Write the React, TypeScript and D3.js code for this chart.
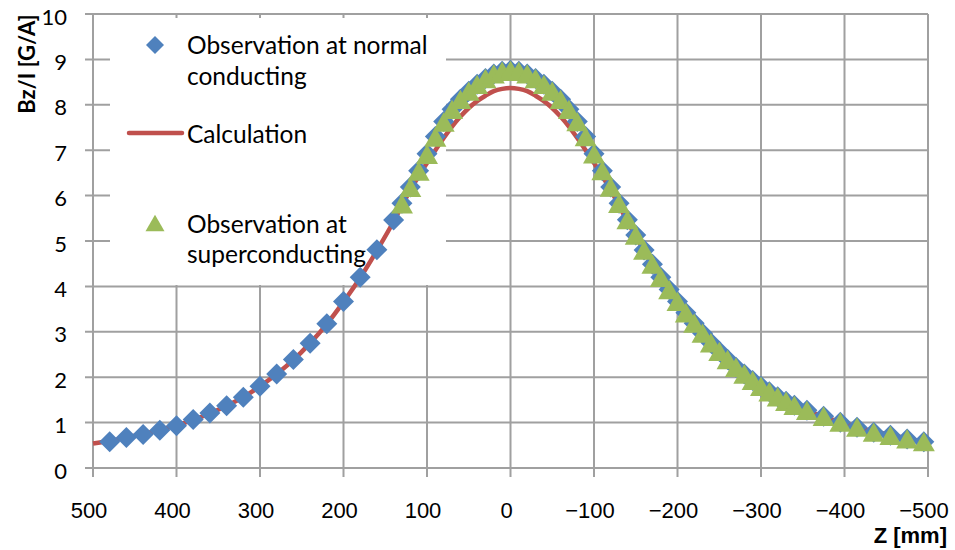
import { useEffect, useRef } from "react";
import * as d3 from "d3";

// Observation at normal conducting (blue diamonds)
const zNormal = [
  480, 460, 440, 420, 400, 380, 360, 340, 320, 300, 280, 260, 240, 220, 200, 180, 160, 140,
  130, 120, 110, 100, 90, 80, 70, 60, 50, 40, 30, 20, 10, 0,
  -10, -20, -30, -40, -50, -60, -70, -80, -90, -100, -110, -120, -130, -140, -150, -160,
  -170, -180, -190, -200, -210, -220, -230, -240, -250, -260, -270, -280, -290, -300,
  -310, -320, -330, -340, -355, -375, -395, -415, -435, -455, -475, -495,
];
const bNormal = [
  0.58, 0.67, 0.74, 0.83, 0.93, 1.07, 1.21, 1.37, 1.56, 1.8, 2.07, 2.39, 2.75, 3.18, 3.67, 4.2, 4.81, 5.46,
  5.83, 6.19, 6.55, 6.92, 7.3, 7.63, 7.9, 8.12, 8.3, 8.45, 8.58, 8.68, 8.74, 8.76,
  8.74, 8.68, 8.58, 8.45, 8.3, 8.12, 7.9, 7.63, 7.3, 6.92, 6.55, 6.19, 5.83, 5.47, 5.13, 4.8,
  4.49, 4.2, 3.93, 3.67, 3.42, 3.19, 2.97, 2.76, 2.57, 2.39, 2.22, 2.07, 1.93, 1.8,
  1.68, 1.57, 1.47, 1.38, 1.27, 1.14, 1.01, 0.9, 0.79, 0.72, 0.64, 0.58,
];

// Observation at superconducting (green triangles)
const zSuper = [
  130, 120, 110, 100, 90, 80, 70, 60, 50, 40, 30, 20, 10, 0,
  -10, -20, -30, -40, -50, -60, -70, -80, -90, -100, -110, -120, -130, -140, -150, -160,
  -170, -180, -190, -200, -210, -220, -230, -240, -250, -260, -270, -280, -290, -300,
  -310, -320, -330, -340, -355, -375, -395, -415, -435, -455, -475, -495,
];
const bSuper = [
  5.82, 6.18, 6.54, 6.91, 7.29, 7.62, 7.9, 8.12, 8.3, 8.45, 8.58, 8.68, 8.74, 8.76,
  8.74, 8.68, 8.58, 8.45, 8.3, 8.12, 7.9, 7.63, 7.3, 6.92, 6.55, 6.19, 5.83, 5.47, 5.13, 4.8,
  4.49, 4.2, 3.93, 3.67, 3.42, 3.19, 2.97, 2.76, 2.57, 2.39, 2.22, 2.07, 1.93, 1.8,
  1.68, 1.57, 1.47, 1.38, 1.27, 1.14, 1.01, 0.9, 0.79, 0.72, 0.64, 0.58,
];

// Calculation (red line)
const zCalc = [
  500, 480, 460, 440, 420, 400, 380, 360, 340, 320, 300, 280, 260, 240, 220, 200, 180, 160, 140,
  130, 120, 110, 100, 90, 80, 70, 60, 50, 40, 30, 20, 10, 0,
  -10, -20, -30, -40, -50, -60, -70, -80, -90, -100, -110, -120, -130,
  -140, -160, -180, -200, -220, -240, -260, -280, -300, -320, -340, -360, -380, -400,
  -420, -440, -460, -480, -500,
];
const bCalc = [
  0.54, 0.6, 0.67, 0.75, 0.84, 0.94, 1.06, 1.2, 1.37, 1.56, 1.8, 2.07, 2.38, 2.75, 3.17, 3.66, 4.19, 4.79, 5.43,
  5.78, 6.12, 6.43, 6.72, 7.0, 7.27, 7.52, 7.74, 7.93, 8.08, 8.2, 8.3, 8.35, 8.37,
  8.35, 8.3, 8.2, 8.08, 7.93, 7.74, 7.52, 7.27, 7.0, 6.72, 6.43, 6.12, 5.78,
  5.43, 4.79, 4.19, 3.66, 3.17, 2.75, 2.38, 2.07, 1.8, 1.57, 1.38, 1.23, 1.1, 0.99,
  0.88, 0.79, 0.71, 0.63, 0.56,
];

const xTicks = [500, 400, 300, 200, 100, 0, -100, -200, -300, -400, -500];
const yTicks = [0, 1, 2, 3, 4, 5, 6, 7, 8, 9, 10];

const BLUE = "#4f81bd";
const RED = "#c0504d";
const GREEN = "#9bbb59";
const GRID = "#a0a0a0";

const diamond = {
  draw(context, size) {
    const r = Math.sqrt(size) / 2;
    context.moveTo(0, -r);
    context.lineTo(r, 0);
    context.lineTo(0, r);
    context.lineTo(-r, 0);
    context.closePath();
  },
};

const boxTriangle = {
  draw(context, size) {
    const w = Math.sqrt(size);
    const h = w * 0.88;
    context.moveTo(0, -h / 2);
    context.lineTo(w / 2, h / 2);
    context.lineTo(-w / 2, h / 2);
    context.closePath();
  },
};

export default function App() {
  const svgRef = useRef<SVGSVGElement | null>(null);

  useEffect(() => {
    if (!svgRef.current) return;
    const width = 955;
    const height = 550;
    const margin = { top: 14, right: 27, bottom: 82, left: 93 };

    const x = d3
      .scaleLinear()
      .domain([500, -500])
      .range([margin.left, width - margin.right]);
    const y = d3
      .scaleLinear()
      .domain([0, 10])
      .range([height - margin.bottom, margin.top]);

    const svg = d3.select(svgRef.current);
    svg.selectAll("*").remove();
    svg.attr("width", width).attr("height", height).style("background", "#fff");

    const grid = svg.append("g").attr("stroke", GRID).attr("stroke-width", 2);
    grid
      .selectAll("line.h")
      .data(yTicks)
      .join("line")
      .attr("class", "h")
      .attr("x1", margin.left - 8)
      .attr("x2", x(-500))
      .attr("y1", (t) => y(t))
      .attr("y2", (t) => y(t));
    grid
      .selectAll("line.v")
      .data(xTicks)
      .join("line")
      .attr("class", "v")
      .attr("x1", (t) => x(t))
      .attr("x2", (t) => x(t))
      .attr("y1", y(10))
      .attr("y2", y(0) + 9);

    // legend box covers the gridlines behind it
    svg
      .append("rect")
      .attr("x", 110)
      .attr("y", 18)
      .attr("width", 336)
      .attr("height", 267)
      .attr("fill", "#fff");

    svg
      .append("g")
      .selectAll("text")
      .data(yTicks)
      .join("text")
      .attr("x", 67)
      .attr("y", (t) => y(t) + 10.5)
      .attr("text-anchor", "end")
      .attr("font-family", "Lato, sans-serif")
      .attr("font-size", 22)
      .attr("fill", "#000")
      .text((t) => String(t));

    const fmt = d3.format("d");
    svg
      .append("g")
      .selectAll("text")
      .data(xTicks)
      .join("text")
      .attr("x", (t) => x(t) - 4)
      .attr("y", 518)
      .attr("text-anchor", "middle")
      .attr("font-family", "'Liberation Sans', Arial, sans-serif")
      .attr("font-size", 22)
      .attr("fill", "#000")
      .text((t) => fmt(t));

    svg
      .append("text")
      .attr("transform", "translate(35,64) rotate(-90)")
      .attr("text-anchor", "middle")
      .attr("font-family", "Lato, sans-serif")
      .attr("font-weight", "bold")
      .attr("font-size", 22)
      .text("Bz/I [G/A]");

    svg
      .append("text")
      .attr("x", 947)
      .attr("y", 543)
      .attr("text-anchor", "end")
      .attr("font-family", "'Liberation Sans', Arial, sans-serif")
      .attr("font-weight", "bold")
      .attr("font-size", 22)
      .text("Z [mm]");

    // legend
    const legend = svg
      .append("g")
      .attr("font-family", "Lato, sans-serif")
      .attr("font-size", 24.5)
      .attr("fill", "#000");
    legend
      .append("path")
      .attr("d", d3.symbol().type(diamond).size(18 * 18)())
      .attr("transform", "translate(155,45)")
      .attr("fill", BLUE);
    legend.append("text").attr("x", 187).attr("y", 54).text("Observation at normal");
    legend.append("text").attr("x", 187).attr("y", 85).text("conducting");
    legend
      .append("line")
      .attr("x1", 129)
      .attr("x2", 182)
      .attr("y1", 133)
      .attr("y2", 133)
      .attr("stroke", RED)
      .attr("stroke-width", 4.5)
      .attr("stroke-linecap", "round");
    legend.append("text").attr("x", 187).attr("y", 143).text("Calculation");
    legend
      .append("path")
      .attr("d", d3.symbol().type(boxTriangle).size(19 * 19)())
      .attr("transform", "translate(155,223)")
      .attr("fill", GREEN);
    legend.append("text").attr("x", 187).attr("y", 233).text("Observation at");
    legend.append("text").attr("x", 187).attr("y", 263).text("superconducting");

    const calc = zCalc.map((z, i) => [z, bCalc[i]] as [number, number]);
    const line = d3
      .line<[number, number]>()
      .x((d) => x(d[0]))
      .y((d) => y(d[1]))
      .curve(d3.curveMonotoneX);
    svg
      .append("path")
      .datum(calc)
      .attr("d", line)
      .attr("fill", "none")
      .attr("stroke", RED)
      .attr("stroke-width", 4.5);

    const normal = zNormal.map((z, i) => ({ z, b: bNormal[i] }));
    svg
      .append("g")
      .selectAll("path")
      .data(normal)
      .join("path")
      .attr("d", d3.symbol().type(diamond).size(21 * 21))
      .attr("transform", (d) => `translate(${x(d.z)},${y(d.b)})`)
      .attr("fill", BLUE);

    const sup = zSuper.map((z, i) => ({ z, b: bSuper[i] }));
    svg
      .append("g")
      .selectAll("path")
      .data(sup)
      .join("path")
      .attr("d", d3.symbol().type(boxTriangle).size(22 * 22))
      .attr("transform", (d) => `translate(${x(d.z)},${y(d.b)})`)
      .attr("fill", GREEN);
  }, []);

  return (
    <div style={{ position: "absolute", left: 0, top: 0 }}>
      <svg ref={svgRef} />
    </div>
  );
}
